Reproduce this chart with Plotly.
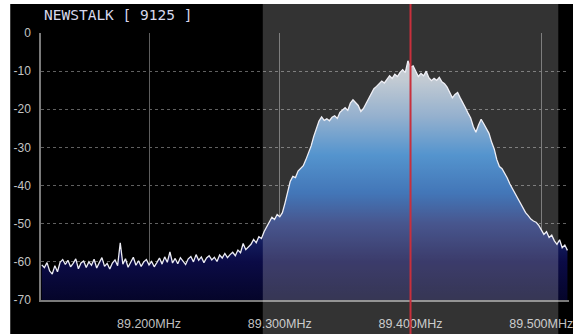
import plotly.graph_objects as go

# spectrum bins (MHz)
freq_start = 89.118
freq_step = 0.002

# level (dB) per bin
level_db = [
    -60.8, -61.5, -60.2, -62.4, -63.2, -61.0, -62.6, -60.1, -59.4, -60.7,
    -59.6, -61.3, -60.4, -59.2, -61.8, -60.3, -59.8, -61.5, -60.0, -60.9,
    -59.3, -61.6, -60.2, -58.9, -61.2, -60.4, -61.9, -60.3, -59.5, -61.0,
    -55.0, -60.6, -59.2, -61.4, -60.1, -58.8, -60.9, -59.7, -61.2, -60.0,
    -59.4, -60.8, -59.9, -61.3, -60.2, -59.0, -60.6, -58.7, -60.1, -57.4,
    -60.3, -59.1, -60.5, -58.9, -59.8, -60.7, -59.2, -58.6, -60.0, -58.1,
    -59.6, -58.7, -60.2, -59.0, -58.4, -59.5, -58.8, -59.9, -58.2, -59.0,
    -57.8, -58.9, -58.1, -57.5, -58.4, -56.9, -57.6, -55.2, -56.8, -56.0,
    -55.4, -54.1, -55.0, -53.4, -53.9, -52.1, -50.8, -49.6, -48.3, -48.9,
    -47.6, -48.2, -47.1, -44.6, -42.0, -38.9, -37.6, -37.9, -36.2, -35.5,
    -34.8, -33.2, -31.5, -29.6, -27.1, -25.3, -23.1, -22.0, -22.9, -22.5,
    -23.0, -22.1, -21.7, -22.4, -20.8, -20.2, -19.6, -20.3, -18.4, -17.5,
    -18.2, -19.0, -20.6, -19.8, -18.5, -17.1, -15.8, -14.6, -14.0, -13.2,
    -12.6, -13.1, -12.0, -11.2, -11.9, -10.8, -11.4, -10.3, -9.6, -10.4,
    -7.3, -9.0, -8.6, -10.1, -11.4, -10.6, -11.2, -10.0, -11.7, -12.5,
    -11.9, -12.4, -11.6, -12.8, -13.3, -14.2, -15.8, -17.0, -16.1, -15.6,
    -17.0, -18.5, -19.6, -21.0, -22.3, -24.5, -26.0, -24.1, -22.6, -23.8,
    -24.9, -26.3, -28.6, -30.4, -33.2, -35.0, -35.6, -36.8, -38.0, -39.6,
    -40.9, -42.1, -43.5, -44.8, -46.0, -47.1, -47.9, -48.8, -49.3, -49.6,
    -50.4, -51.6, -52.8, -52.1, -53.6, -53.0, -54.5, -55.4, -54.2, -56.3,
    -55.6, -57.0,
]

freqs = [round(freq_start + i * freq_step, 4) for i in range(len(level_db))]

y_ticks = [0, -10, -20, -30, -40, -50, -60, -70]
y_labels = ["0", "-10", "-20", "-30", "-40", "-50", "-60", "-70"]
x_ticks = [89.2, 89.3, 89.4, 89.5]
x_labels = ["89.200MHz", "89.300MHz", "89.400MHz", "89.500MHz"]

tuned_freq = 89.400
band_low, band_high = 89.287, 89.513
station = "NEWSTALK [ 9125 ]"

# plot area in pixels: left 41, top 33, right 573, bottom 300
W, H = 573, 334
L, T, R, B = 41, 33, 0, 34
pw, ph = W - L - R, H - T - B
top_px = 4  # black area starts here

def py(px_from_top):
    # pixel row -> paper y
    return (H - B - px_from_top) / ph

fig = go.Figure()

# baseline for the fill
fig.add_trace(go.Scatter(x=freqs, y=[-70] * len(freqs), mode="lines",
                         line=dict(width=0), hoverinfo="skip", showlegend=False))

fig.add_trace(go.Scatter(
    x=freqs, y=level_db, mode="lines", fill="tonexty",
    line=dict(color="#ececf4", width=1.3),
    fillgradient=dict(
        type="vertical", start=-70, stop=-5,
        colorscale=[[0, "#05052a"], [0.154, "#0b0b46"], [0.308, "#1a2c72"],
                    [0.43, "#1454a6"], [0.585, "#2a7ac2"], [0.74, "#7a9dc2"],
                    [0.89, "#b4bec8"], [1, "#cacdd2"]]),
    showlegend=False))

shapes = [
    # black panel inside the white border
    dict(type="rect", xref="paper", yref="paper", x0=(10 - L) / pw, x1=1.02,
         y0=-0.3, y1=py(top_px), fillcolor="black", line=dict(width=0), layer="below"),
    # passband overlay
    dict(type="rect", xref="x", yref="paper", x0=band_low, x1=band_high,
         y0=-0.3, y1=py(top_px), fillcolor="rgba(255,255,255,0.2)",
         line=dict(width=0), layer="above"),
    # tuned frequency
    dict(type="line", xref="x", yref="paper", x0=tuned_freq, x1=tuned_freq,
         y0=-0.3, y1=py(top_px), line=dict(color="#c8303c", width=2), layer="above"),
]

fig.add_annotation(text=station, xref="paper", yref="paper",
                   x=(42 - L) / pw, y=py(15), xanchor="left", yanchor="middle",
                   showarrow=False,
                   font=dict(family="DejaVu Sans Mono", size=14.5, color="#d8d8ec"))

fig.update_layout(
    width=W, height=H,
    margin=dict(l=L, r=R, t=T, b=B),
    paper_bgcolor="white", plot_bgcolor="black",
    shapes=shapes,
    font=dict(family="Liberation Sans", color="#c4c4c4", size=11),
)

fig.update_xaxes(range=[89.1174, 89.5212], tickvals=x_ticks, ticktext=x_labels,
                 showgrid=True, gridcolor="#5e5e5e", gridwidth=1,
                 showline=True, linecolor="#7a7a7a", linewidth=1.5,
                 zeroline=False, ticks="", ticklabelstandoff=11,
                 ticklabeloverflow="allow",
                 tickfont=dict(size=12.5, color="#c0c0c0"))
fig.update_yaxes(range=[-70, 0], tickvals=y_ticks, ticktext=y_labels,
                 showgrid=True, gridcolor="#606060", griddash="dot", gridwidth=1,
                 showline=True, linecolor="#7a7a7a", linewidth=1.5,
                 zeroline=False, ticks="", ticklabelstandoff=6,
                 tickfont=dict(size=12, color="#c4c4c4"))

# page body has an 8px margin by default, drop it so the figure sits at 0,0
fig.write_html("out.html", config={"displayModeBar": False},
               post_script="document.body.style.margin='0';")
